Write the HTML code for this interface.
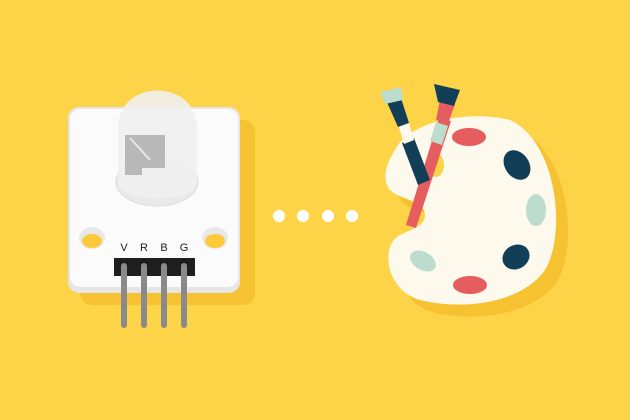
<!DOCTYPE html>
<html><head><meta charset="utf-8"><style>html,body{margin:0;padding:0;background:#fdd347}svg{display:block}</style></head>
<body>
<svg width="630" height="420" viewBox="0 0 630 420">
<rect width="630" height="420" fill="#fdd347"/>
<g>
 <rect x="80" y="120" width="175" height="185" rx="12" fill="#f6c232"/>
 <rect x="68" y="107" width="172" height="186" rx="11" fill="#e6e6e6"/>
 <rect x="70" y="109" width="168" height="178" rx="10" fill="#fbfbfb"/>
 <ellipse cx="92" cy="238" rx="13" ry="11" fill="#e8e8e8"/>
 <ellipse cx="92" cy="241" rx="10" ry="7" fill="#fdc93a"/>
 <ellipse cx="215" cy="238" rx="13" ry="11" fill="#e8e8e8"/>
 <ellipse cx="215" cy="241" rx="10" ry="7" fill="#fdc93a"/>
 <ellipse cx="157" cy="182" rx="41" ry="24" fill="#e9e9e9" stroke="#dcdcdc"/>
 <path d="M118 182 L118 128 C118 78 197 78 197 128 L197 182 C197 204 118 204 118 182 Z" fill="#efefef" opacity="0.9"/>
 <path d="M125 135 L165 135 L165 168 L142 168 L142 175 L125 175 Z" fill="#b8b8b8"/>
 <line x1="130" y1="138" x2="150" y2="160" stroke="#e8e8e8" stroke-width="2"/>
 <text x="124" y="251" font-family="Liberation Sans, sans-serif" font-size="11" text-anchor="middle" fill="#222">V</text>
 <text x="144" y="251" font-family="Liberation Sans, sans-serif" font-size="11" text-anchor="middle" fill="#222">R</text>
 <text x="164" y="251" font-family="Liberation Sans, sans-serif" font-size="11" text-anchor="middle" fill="#222">B</text>
 <text x="184" y="251" font-family="Liberation Sans, sans-serif" font-size="11" text-anchor="middle" fill="#222">G</text>
 <rect x="114" y="258" width="81" height="18" fill="#1e1e1e"/>
 <g fill="#8a8a8a">
  <rect x="121" y="263" width="6" height="65" rx="3"/><rect x="141" y="263" width="6" height="65" rx="3"/>
  <rect x="161" y="263" width="6" height="65" rx="3"/><rect x="181" y="263" width="6" height="65" rx="3"/>
 </g>
</g>
<g fill="#fff">
 <circle cx="279" cy="216" r="6"/><circle cx="303" cy="216" r="6"/><circle cx="328" cy="216" r="6"/><circle cx="352" cy="216" r="6"/>
</g>
<g>
 <path d="M407 162 C422 132 482 122 522 132 C567 152 580 242 557 282 C532 317 472 322 432 312 C397 302 392 257 412 247 C427 240 437 237 437 227 C437 212 412 212 402 202 C394 192 397 177 407 162 Z" fill="#f6c232"/>
 <path d="M395 150 C410 120 470 110 510 120 C555 140 568 230 545 270 C520 305 460 310 420 300 C385 290 380 245 400 235 C415 228 425 225 425 215 C425 200 400 200 390 190 C382 180 385 165 395 150 Z" fill="#fdf9ec"/>
 <ellipse cx="436" cy="165" rx="8" ry="12" fill="#fdd347"/>
 <g>
  <path d="M439 118 L451 121 L416 228 L406 225 Z" fill="#e65d5f"/>
  <path d="M436 122 L448 126 L442 145 L430 141 Z" fill="#bcdccd"/>
  <path d="M440 100 L455 104 L448 124 L436 120 Z" fill="#e65d5f"/>
  <path d="M434 84 L460 90 L454 106 L438 102 Z" fill="#123f57"/>
 </g>
 <g>
  <path d="M402 143 L414 138 L430 180 L418 185 Z" fill="#123f57"/>
  <path d="M398 124 L408 120 L414 140 L404 144 Z" fill="#fdf9ec"/>
  <path d="M386 100 L400 95 L409 123 L398 127 Z" fill="#123f57"/>
  <path d="M380 92 L401 87 L403 100 L385 104 Z" fill="#bcdccd"/>
 </g>
 <ellipse cx="469" cy="137" rx="17" ry="9" fill="#e65d5f"/>
 <ellipse cx="517" cy="165" rx="12" ry="16" transform="rotate(-35 517 165)" fill="#123f57"/>
 <ellipse cx="536" cy="210" rx="10" ry="16" fill="#bcdccd"/>
 <ellipse cx="516" cy="257" rx="14" ry="12" transform="rotate(-30 516 257)" fill="#123f57"/>
 <ellipse cx="423" cy="261" rx="14" ry="9" transform="rotate(30 423 261)" fill="#bcdccd"/>
 <ellipse cx="470" cy="285" rx="17" ry="9" fill="#e65d5f"/>
</g>
</svg>
</body></html>
